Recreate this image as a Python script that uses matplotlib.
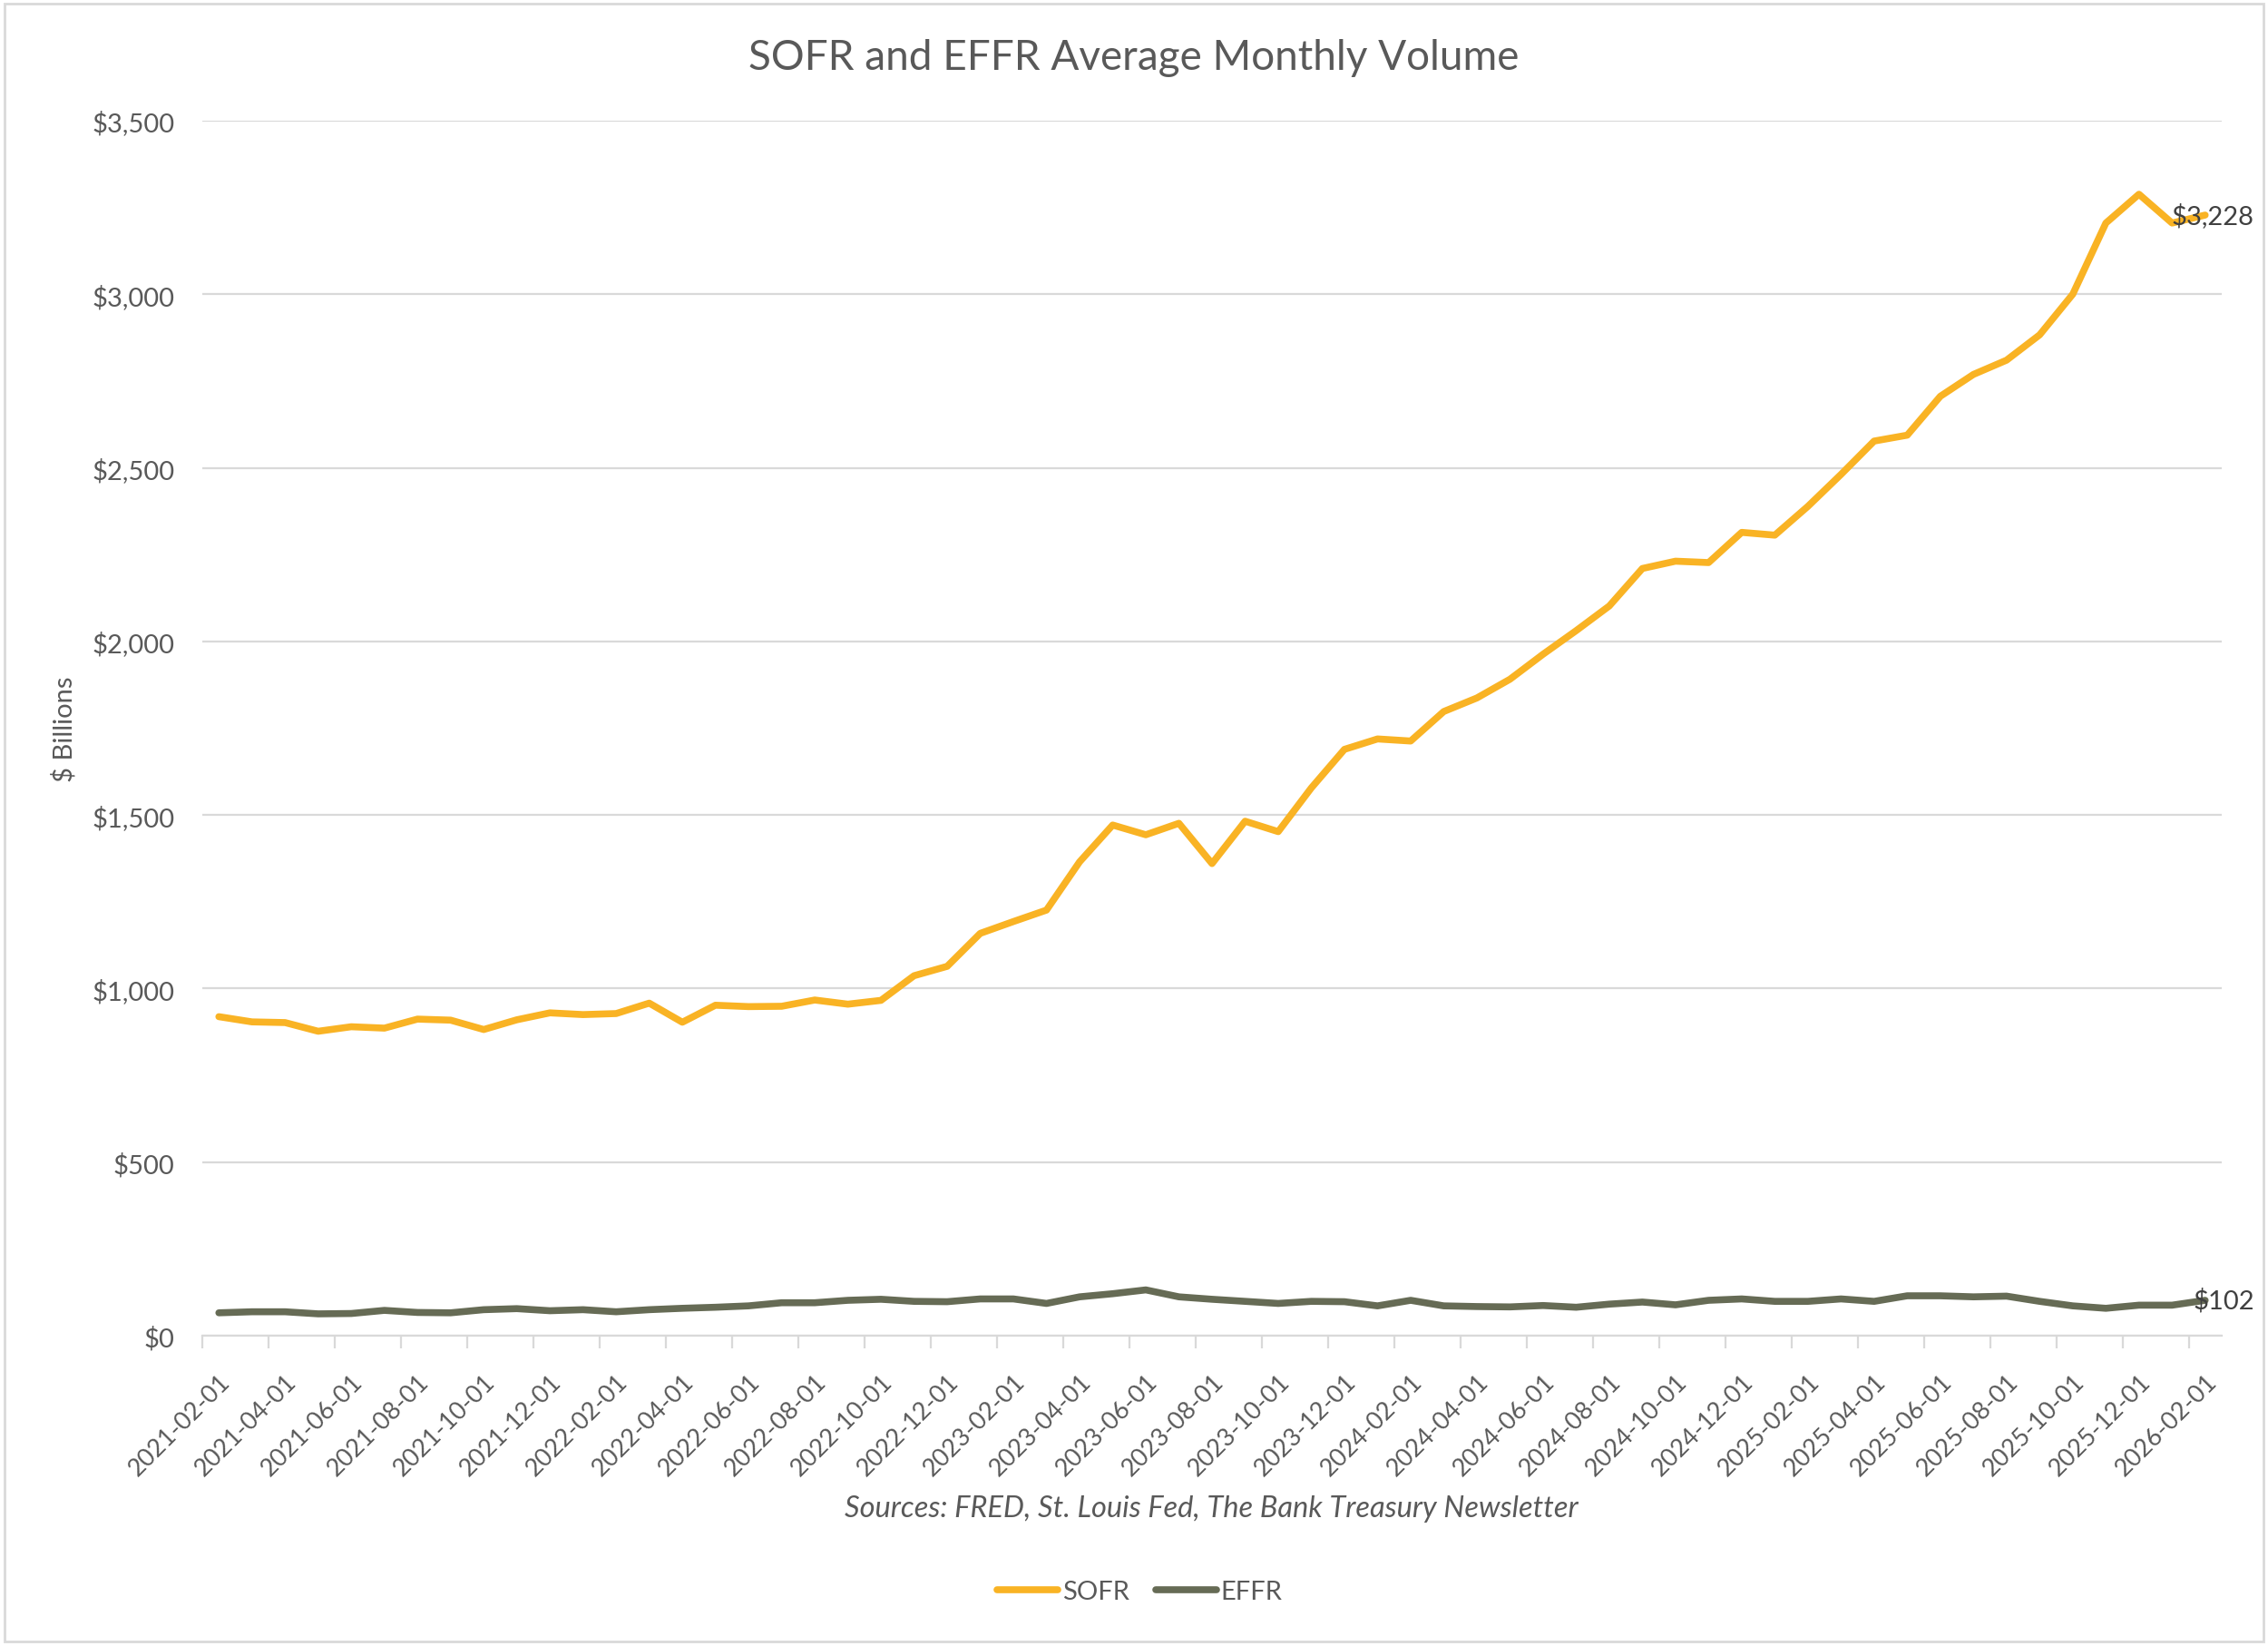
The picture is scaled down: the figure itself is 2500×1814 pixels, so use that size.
import matplotlib.pyplot as plt
import matplotlib.ticker as mticker
from matplotlib.patches import Rectangle
import pandas as pd

# Monthly categories, Feb 2021 .. Feb 2026
months = pd.date_range("2021-02-01", "2026-02-01", freq="MS").strftime("%Y-%m-%d").tolist()

# $ billions
sofr = [919, 904, 902, 877, 890, 886, 912, 909, 882, 910,
        930, 925, 928, 958, 903, 952, 948, 949, 967, 955,
        966, 1037, 1064, 1159, 1193, 1226, 1365, 1471, 1443, 1476,
        1360, 1482, 1452, 1578, 1689, 1719, 1713, 1798, 1837, 1891,
        1963, 2031, 2102, 2210, 2231, 2227, 2314, 2306, 2389, 2481,
        2577, 2594, 2706, 2769, 2810, 2883, 3000, 3205, 3288, 3205, 3228]
effr = [66, 69, 69, 63, 64, 73, 67, 66, 75, 78,
        72, 75, 69, 75, 79, 82, 86, 95, 95, 102,
        105, 99, 98, 106, 106, 93, 112, 121, 132, 112,
        105, 99, 93, 99, 98, 86, 102, 86, 84, 83,
        87, 82, 91, 97, 89, 102, 106, 99, 99, 106,
        99, 115, 115, 112, 114, 99, 86, 79, 88, 88, 102]

sofr_color = '#F9B324'
effr_color = '#666B55'
text_color = '#595959'
grid_color = '#D9D9D9'

plt.rcParams['font.family'] = ['Lato', 'DejaVu Sans']

fig = plt.figure(figsize=(25, 18.15), dpi=100)
fig.patch.set_facecolor('white')
ax = fig.add_axes([0.0892, 0.1884, 0.8904, 0.7378])

x = list(range(len(months)))
ax.plot(x, sofr, color=sofr_color, lw=5.5, label='SOFR', solid_joinstyle='round', solid_capstyle='round', zorder=3)
ax.plot(x, effr, color=effr_color, lw=5.5, label='EFFR', solid_joinstyle='round', solid_capstyle='round', zorder=3)

# last-value labels
for series in (sofr, effr):
    ax.annotate(f"${series[-1]:,}", (x[-1], series[-1]), xytext=(39, 0),
                textcoords='offset points', ha='right', va='center',
                fontsize=21, color='#404040', zorder=4)

ax.set_xlim(-0.5, len(months) - 0.5)
ax.set_ylim(0, 3500)
ax.yaxis.set_major_locator(mticker.MultipleLocator(500))
ax.yaxis.set_major_formatter(mticker.FuncFormatter(lambda v, p: f"${v:,.0f}"))
ax.grid(axis='y', color=grid_color, lw=1.6, zorder=0)
ax.set_axisbelow(True)

# labels on every other month, tick marks on category boundaries
ax.set_xticks(x[::2])
ax.set_xticklabels(months[::2], rotation=45, ha='right', rotation_mode='anchor')
ax.set_xticks([i - 0.5 for i in x[::2]], minor=True)
ax.tick_params(axis='x', which='major', length=0, pad=27, labelsize=19.5, labelcolor=text_color)
ax.tick_params(axis='x', which='minor', length=10, width=1.6, color=grid_color)
ax.tick_params(axis='y', length=0, pad=22, labelsize=21, labelcolor=text_color)

for side in ('top', 'right', 'left'):
    ax.spines[side].set_visible(False)
ax.spines['bottom'].set_color(grid_color)
ax.spines['bottom'].set_linewidth(1.6)

ax.set_ylabel("$ Billions", fontsize=21, color=text_color, labelpad=12)

fig.text(0.5, 0.965, "SOFR and EFFR Average Monthly Volume", ha='center', va='center',
         fontsize=33, color=text_color)
fig.text(0.534, 0.0837, "Sources: FRED, St. Louis Fed, The Bank Treasury Newsletter",
         ha='center', va='center', fontsize=23.5, style='italic', color=text_color)

fig.legend(loc='center', bbox_to_anchor=(0.5025, 0.033), ncol=2, frameon=False,
           fontsize=21, handlelength=2.3, handletextpad=0.15, columnspacing=1.0,
           labelcolor=text_color)

fig.add_artist(Rectangle((0.002, 0.003), 0.996, 0.994, transform=fig.transFigure,
                         fill=False, edgecolor=grid_color, lw=2))

fig.savefig("out.png", dpi=100, facecolor='white')
